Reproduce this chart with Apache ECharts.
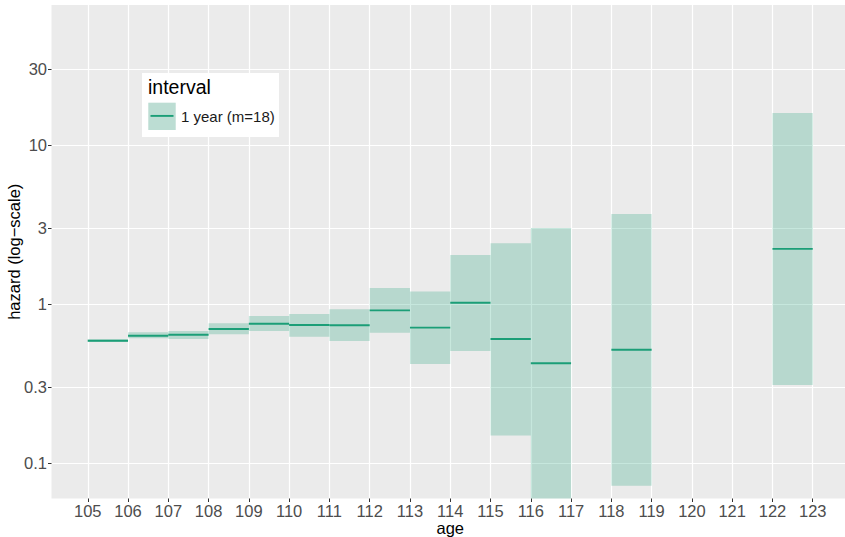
<!DOCTYPE html>
<html><head><meta charset="utf-8">
<script src="https://cdn.jsdelivr.net/npm/echarts@6/dist/echarts.min.js"></script>
<style>html,body{margin:0;padding:0;background:#fff}#c{width:845px;height:537px}</style>
</head><body><div id="c"></div>
<script>
// ---- data ----
const ageStart = [105, 106, 107, 108, 109, 110, 111, 112, 113, 114, 115, 116, 118, 122];
const estimate = [0.588, 0.632, 0.641, 0.696, 0.752, 0.738, 0.735, 0.912, 0.710, 1.019, 0.603, 0.424, 0.516, 2.22];
const lower    = [0.577, 0.608, 0.603, 0.645, 0.677, 0.623, 0.585, 0.660, 0.420, 0.506, 0.149, 0.030, 0.0721, 0.31];
const upper    = [0.600, 0.664, 0.677, 0.756, 0.841, 0.865, 0.926, 1.26, 1.20, 2.03, 2.41, 3.0, 3.68, 15.9];
const xTicks = [105,106,107,108,109,110,111,112,113,114,115,116,117,118,119,120,121,122,123];
const yTicks = [0.1, 0.3, 1, 3, 10, 30];
const legendTitle = 'interval';
const legendLabel = '1 year (m=18)';
const xTitle = 'age';
const yTitle = 'hazard (log\u2212scale)';

const L = Math.log10;
const rectData = ageStart.map((a, i) => [a, a + 1, L(lower[i]), L(upper[i])]);
const lineData = ageStart.map((a, i) => [a, a + 1, L(estimate[i])]);
const yTickPos = yTicks.map(L);
const fmtY = v => { const r = Math.pow(10, v); return String(+r.toPrecision(3)); };

const FONT = '"Liberation Sans", Arial, sans-serif';
const FILL = 'rgba(27,158,119,0.25)';
const GREEN = '#1B9E77';

const chart = echarts.init(document.getElementById('c'), null, {renderer: 'svg'});
chart.setOption({
  animation: false,
  textStyle: {fontFamily: FONT},
  grid: {left: 51.5, top: 5, width: 797.5, height: 493.5, show: true,
         backgroundColor: '#EBEBEB', borderWidth: 0, containLabel: false, outerBoundsMode: 'none'},
  xAxis: {
    type: 'value', min: 104.1, max: 123.9,
    name: xTitle, nameLocation: 'middle', nameGap: 20.5, nameMoveOverlap: false,
    nameTextStyle: {color: '#000', fontSize: 16.5, fontFamily: FONT},
    axisLine: {show: false, onZero: false},
    axisTick: {show: true, customValues: xTicks, length: 3.5, lineStyle: {color: '#333', width: 1}},
    axisLabel: {customValues: xTicks, color: '#4D4D4D', fontSize: 16.5, margin: 4.2, fontFamily: FONT},
    splitLine: {show: true, lineStyle: {color: '#fff', width: 1.2}}
  },
  yAxis: {
    type: 'value', min: -1.2228, max: 1.8798,
    name: yTitle, nameLocation: 'middle', nameGap: 29, nameRotate: 90, nameMoveOverlap: false,
    nameTextStyle: {color: '#000', fontSize: 16.5, fontFamily: FONT},
    axisLine: {show: false, onZero: false},
    axisTick: {show: true, customValues: yTickPos, length: 3.5, lineStyle: {color: '#333', width: 1}},
    axisLabel: {customValues: yTickPos, formatter: fmtY, color: '#4D4D4D', fontSize: 16.5, margin: 4.5, fontFamily: FONT},
    splitLine: {show: true, lineStyle: {color: '#fff', width: 1.2}}
  },
  series: [
    {
      type: 'custom', name: 'ci', data: rectData, encode: {x: [0, 1], y: [2, 3]},
      renderItem: (params, api) => {
        const p0 = api.coord([api.value(0), api.value(3)]);
        const p1 = api.coord([api.value(1), api.value(2)]);
        const cs = params.coordSys;
        const shape = echarts.graphic.clipRectByRect(
          {x: p0[0], y: p0[1], width: p1[0] - p0[0], height: p1[1] - p0[1]},
          {x: cs.x, y: cs.y, width: cs.width, height: cs.height});
        return shape && {type: 'rect', shape: shape, style: {fill: FILL}};
      }
    },
    {
      type: 'custom', name: legendLabel, data: lineData, encode: {x: [0, 1], y: 2},
      renderItem: (params, api) => {
        const a = api.coord([api.value(0), api.value(2)]);
        const b = api.coord([api.value(1), api.value(2)]);
        return {type: 'line', shape: {x1: a[0], y1: a[1], x2: b[0], y2: b[1]},
                style: {stroke: GREEN, lineWidth: 1.9}};
      }
    }
  ],
  graphic: [
    {type: 'rect', shape: {x: 142, y: 73, width: 137, height: 64}, style: {fill: '#fff'}, z: 100},
    {type: 'text', x: 148, y: 86.7, style: {text: legendTitle, fill: '#000', font: '19.5px ' + FONT, verticalAlign: 'middle'}, z: 101},
    {type: 'rect', shape: {x: 148.3, y: 102.7, width: 27.4, height: 27.3}, style: {fill: '#F2F2F2'}, z: 101},
    {type: 'rect', shape: {x: 148.3, y: 102.7, width: 27.4, height: 27.3}, style: {fill: FILL}, z: 102},
    {type: 'line', shape: {x1: 150.5, y1: 115.9, x2: 173.5, y2: 115.9}, style: {stroke: GREEN, lineWidth: 1.9}, z: 103},
    {type: 'text', x: 181, y: 116.3, style: {text: legendLabel, fill: '#1A1A1A', font: '15px ' + FONT, verticalAlign: 'middle'}, z: 101}
  ]
});
</script></body></html>
